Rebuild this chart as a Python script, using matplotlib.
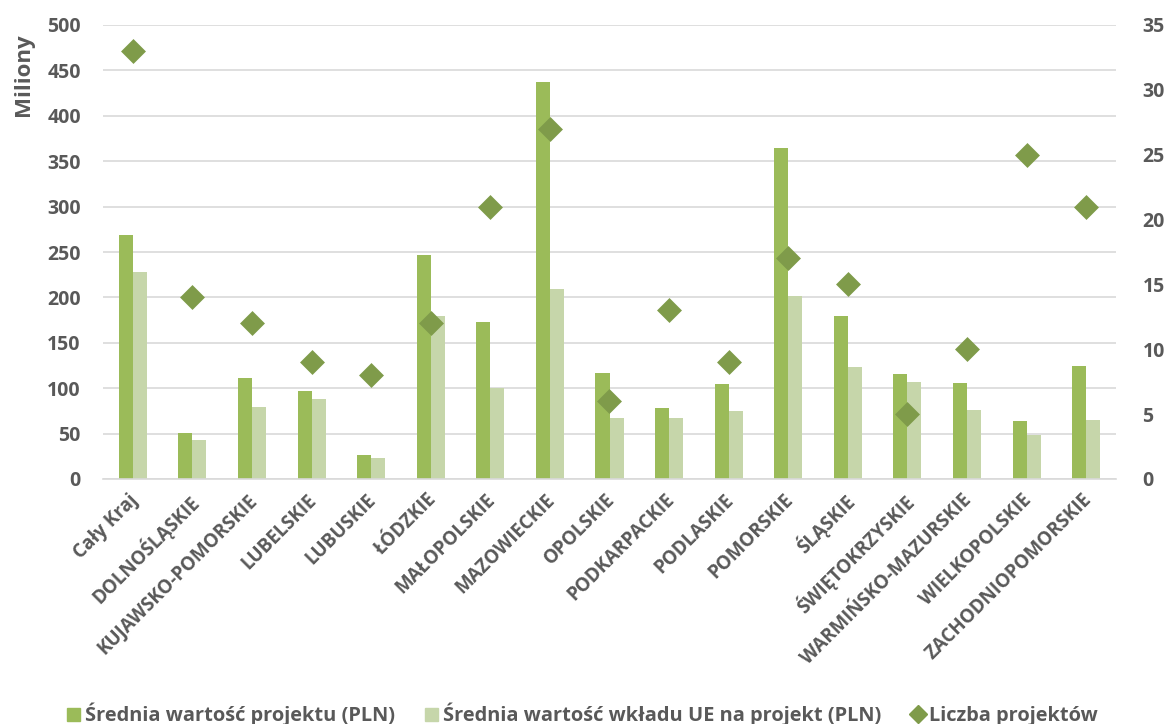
import numpy as np
import matplotlib
matplotlib.use('Agg')
import matplotlib.pyplot as plt
import matplotlib.transforms as mtransforms
from matplotlib.lines import Line2D
from matplotlib.patches import Patch

plt.rcParams['font.family'] = ['Open Sans', 'DejaVu Sans']
plt.rcParams['font.weight'] = 'bold'

regions = ['Cały Kraj', 'DOLNOŚLĄSKIE', 'KUJAWSKO-POMORSKIE', 'LUBELSKIE', 'LUBUSKIE',
           'ŁÓDZKIE', 'MAŁOPOLSKIE', 'MAZOWIECKIE', 'OPOLSKIE', 'PODKARPACKIE',
           'PODLASKIE', 'POMORSKIE', 'ŚLĄSKIE', 'ŚWIĘTOKRZYSKIE', 'WARMIŃSKO-MAZURSKIE',
           'WIELKOPOLSKIE', 'ZACHODNIOPOMORSKIE']
avg_project = [269, 51, 111, 97, 26, 247, 173, 437, 117, 78, 105, 365, 180, 116, 106, 64, 124]
avg_eu = [228, 43, 79, 88, 23, 180, 100, 209, 67, 67, 75, 201, 123, 107, 76, 48, 65]
n_projects = [33, 14, 12, 9, 8, 12, 21, 27, 6, 13, 9, 17, 15, 5, 10, 25, 21]

c_main = '#9bbb59'
c_light = '#c6d6aa'
c_dia = '#7f9b4a'
c_text = '#595959'
c_grid = '#d9d9d9'
fs = 14

fig = plt.figure(figsize=(11.65, 7.24), dpi=100)
ax = fig.add_axes([103/1165, 1-479/724, (1116-103)/1165, (479-25)/724])

x = np.arange(len(regions))
w = 0.235
ax.bar(x - w/2, avg_project, width=w, color=c_main, zorder=2)
ax.bar(x + w/2, avg_eu, width=w, color=c_light, zorder=2)

ax.set_xlim(-0.5, len(regions) - 0.5)
ax.set_ylim(0, 500)
ax.set_yticks(np.arange(0, 501, 50))
ax.yaxis.grid(True, color=c_grid, linewidth=1.2, zorder=0)
ax.set_axisbelow(True)
for s in ['top', 'right', 'left']:
    ax.spines[s].set_visible(False)
ax.spines['bottom'].set_color(c_grid)
ax.spines['bottom'].set_linewidth(1.2)
ax.tick_params(axis='both', length=0, colors=c_text, labelsize=fs)
ax.tick_params(axis='y', pad=16)
ax.set_xticks(x)
ax.set_xticklabels(regions, rotation=45, ha='right', rotation_mode='anchor', fontsize=13.5)
ax.tick_params(axis='x', pad=8)
shift = mtransforms.ScaledTranslation(-5/100, 0, fig.dpi_scale_trans)
for lab in ax.get_xticklabels():
    lab.set_transform(lab.get_transform() + shift)
ax.set_ylabel('Miliony', color=c_text, fontsize=16, fontweight='bold')
ax.yaxis.set_label_coords(-0.068, 0.89)

ax2 = ax.twinx()
ax2.scatter(x, n_projects, marker='D', s=12.7**2, color=c_dia, zorder=3, linewidths=0)
ax2.set_ylim(0, 35)
ax2.set_yticks(np.arange(0, 36, 5))
for s in ['top', 'right', 'left', 'bottom']:
    ax2.spines[s].set_visible(False)
ax2.tick_params(axis='y', length=0, colors=c_text, labelsize=fs, pad=19)

handles = [Patch(color=c_main), Patch(color=c_light),
           Line2D([], [], marker='D', linestyle='', color=c_dia, markersize=9)]
labels = ['Średnia wartość projektu (PLN)', 'Średnia wartość wkładu UE na projekt (PLN)', 'Liczba projektów']
leg = fig.legend(handles, labels, loc='lower center', bbox_to_anchor=(0.5, -0.028), ncol=3,
                 frameon=False, fontsize=14.4, handlelength=0.65, handleheight=0.65,
                 handletextpad=0.25, columnspacing=1.5)
for t in leg.get_texts():
    t.set_color(c_text)

fig.savefig('out.png', dpi=100)
